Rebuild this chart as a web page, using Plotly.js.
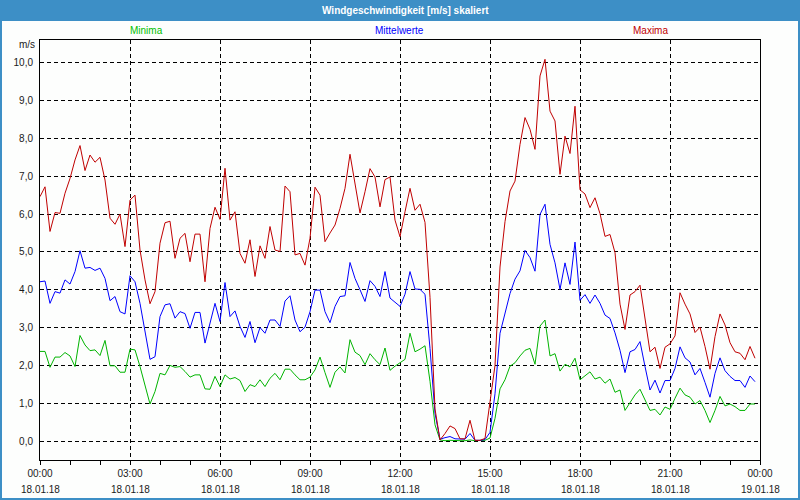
<!DOCTYPE html>
<html>
<head>
<meta charset="utf-8">
<script src="https://cdn.plot.ly/plotly-3.0.1.min.js"></script>
<style>
  html, body { margin: 0; padding: 0; background: #fdfefd; }
  #chart { width: 800px; height: 500px; }
</style>
</head>
<body>
<div id="chart"></div>
<script>
// ---- Data (10-minute values, 18.01.18 00:00 .. 23:50) ----
const minima = [
  2.37, 2.37, 1.95, 2.22, 2.22, 2.34, 2.25, 1.97, 2.79, 2.54,
  2.39, 2.41, 2.26, 2.66, 1.99, 1.99, 1.82, 1.82, 2.43, 2.41,
  1.97, 1.44, 0.98, 1.31, 1.79, 1.75, 2.00, 1.95, 1.97, 1.84,
  1.69, 1.75, 1.75, 1.38, 1.37, 1.71, 1.44, 1.75, 1.64, 1.68,
  1.60, 1.31, 1.49, 1.44, 1.62, 1.44, 1.66, 1.79, 1.62, 1.90,
  1.90, 1.75, 1.62, 1.62, 1.69, 1.88, 2.22, 1.81, 1.42, 1.82,
  1.96, 1.80, 2.68, 2.35, 2.26, 2.02, 2.31, 2.15, 2.02, 2.46,
  1.87, 1.98, 2.07, 2.16, 2.85, 2.36, 2.43, 2.52, 1.58, 0.43,
  0.03, 0.01, 0.02, 0.01, 0.01, 0.01, 0.03, 0.01, 0.01, 0.02,
  0.08, 0.60, 1.38, 1.62, 1.98, 2.07, 2.25, 2.40, 2.45, 2.03,
  3.04, 3.20, 2.25, 2.31, 1.85, 2.03, 1.96, 2.19, 1.62, 1.72,
  1.83, 1.64, 1.69, 1.53, 1.64, 1.29, 1.35, 0.81, 1.00, 1.22,
  1.37, 1.11, 0.81, 0.84, 0.69, 0.90, 0.84, 1.13, 1.40, 1.22,
  1.16, 0.98, 1.07, 0.81, 0.49, 0.81, 1.18, 0.93, 0.98, 0.91,
  0.81, 0.81, 0.98, 0.98
];
const mittelwerte = [
  4.21, 4.23, 3.64, 3.95, 3.91, 4.26, 4.15, 4.48, 5.03, 4.57,
  4.59, 4.51, 4.57, 4.30, 3.71, 3.82, 3.42, 3.36, 4.37, 4.21,
  3.64, 2.94, 2.16, 2.23, 3.29, 3.60, 3.63, 3.25, 3.42, 3.37,
  2.98, 3.40, 3.40, 2.59, 3.11, 3.64, 3.16, 4.19, 3.29, 3.44,
  3.03, 2.74, 3.16, 2.60, 3.00, 2.85, 3.20, 3.20, 3.03, 3.70,
  3.84, 3.20, 2.89, 3.01, 3.42, 3.99, 3.99, 3.42, 3.13, 3.56,
  3.82, 3.84, 4.72, 4.30, 4.00, 3.69, 4.24, 4.09, 3.82, 4.48,
  3.78, 3.66, 3.56, 3.88, 4.48, 4.02, 4.01, 3.88, 2.45, 0.73,
  0.05, 0.09, 0.12, 0.06, 0.05, 0.05, 0.20, 0.02, 0.02, 0.04,
  0.23, 1.25, 2.85, 3.35, 3.90, 4.28, 4.50, 5.04, 4.85, 4.49,
  5.99, 6.26, 5.20, 4.71, 4.01, 4.71, 4.14, 5.26, 3.72, 3.87,
  3.64, 3.86, 3.64, 3.33, 3.24, 2.86, 2.40, 1.81, 2.36, 2.42,
  2.63, 1.97, 1.35, 1.61, 1.27, 1.60, 1.60, 1.92, 2.49, 2.20,
  2.09, 1.75, 1.92, 1.55, 1.16, 1.79, 2.20, 1.86, 1.71, 1.60,
  1.60, 1.42, 1.72, 1.57
];
const maxima = [
  6.46, 6.72, 5.54, 6.04, 6.02, 6.55, 6.94, 7.43, 7.81, 7.15,
  7.56, 7.37, 7.50, 6.90, 5.89, 5.73, 6.00, 5.14, 6.37, 6.50,
  5.05, 4.26, 3.63, 3.95, 5.23, 5.77, 5.81, 4.83, 5.36, 5.49,
  4.74, 5.47, 5.47, 4.21, 5.62, 6.18, 5.86, 7.21, 5.84, 6.06,
  4.96, 4.70, 5.32, 4.35, 5.16, 4.83, 5.67, 5.05, 5.01, 6.74,
  6.59, 4.92, 4.96, 4.65, 5.36, 6.71, 6.50, 5.27, 5.50, 5.71,
  6.15, 6.68, 7.58, 6.81, 6.03, 6.59, 7.20, 6.98, 6.19, 6.91,
  6.98, 5.84, 5.40, 6.06, 6.68, 6.10, 6.26, 5.78, 3.80, 0.85,
  0.03, 0.20, 0.40, 0.33, 0.06, 0.06, 0.55, 0.02, 0.02, 0.07,
  1.00, 2.00, 4.60, 5.80, 6.61, 6.87, 7.84, 8.55, 8.24, 7.71,
  9.65, 10.09, 8.72, 8.46, 7.05, 8.06, 7.60, 8.85, 6.64, 6.53,
  6.17, 6.43, 6.01, 5.41, 5.46, 4.98, 3.62, 2.95, 3.86, 3.95,
  4.12, 3.29, 2.36, 2.48, 1.92, 2.48, 2.57, 2.78, 3.92, 3.62,
  3.36, 2.87, 3.01, 2.50, 1.90, 2.76, 3.36, 3.07, 2.60, 2.36,
  2.32, 2.15, 2.50, 2.19
];
const seriesNames = ['Minima', 'Mittelwerte', 'Maxima'];
const tickVals = ['2018-01-18 00:00', '2018-01-18 03:00', '2018-01-18 06:00', '2018-01-18 09:00',
  '2018-01-18 12:00', '2018-01-18 15:00', '2018-01-18 18:00', '2018-01-18 21:00', '2018-01-19 00:00'];
const tickTimes = ['00:00', '03:00', '06:00', '09:00', '12:00', '15:00', '18:00', '21:00', '00:00'];
const tickDates = ['18.01.18', '18.01.18', '18.01.18', '18.01.18', '18.01.18', '18.01.18', '18.01.18', '18.01.18', '19.01.18'];
const chartTitle = 'Windgeschwindigkeit [m/s] skaliert';
const yUnit = 'm/s';

// ---- time stamps: 10-minute sampling ----
function pad(n) { return (n < 10 ? '0' : '') + n; }
const times = minima.map(function (_, i) {
  const mins = i * 10;
  return '2018-01-18 ' + pad(Math.floor(mins / 60)) + ':' + pad(mins % 60);
});

const colors = { min: '#00b400', mean: '#0000ff', max: '#c00000' };
const blue = '#3d8fc6';
const font = 'Liberation Sans, Arial, sans-serif';

// paper-coordinate helpers (plot area: x 40..760, y 40..460 in pixels)
const L = 40, R = 40, T = 40, B = 40, W = 800, H = 500;
const pw = W - L - R, ph = H - T - B;
function px(x) { return (x - L) / pw; }
function py(y) { return (H - B - y) / ph; }

const traces = [
  { x: times, y: minima, name: seriesNames[0], type: 'scatter', mode: 'lines',
    line: { color: colors.min, width: 1 } },
  { x: times, y: mittelwerte, name: seriesNames[1], type: 'scatter', mode: 'lines',
    line: { color: colors.mean, width: 1 } },
  { x: times, y: maxima, name: seriesNames[2], type: 'scatter', mode: 'lines',
    line: { color: colors.max, width: 1 } }
];

const annotations = [
  { text: '<b>' + chartTitle + '</b>', xref: 'paper', yref: 'paper', x: px(405), y: py(10.5),
    xanchor: 'center', yanchor: 'middle', showarrow: false,
    font: { family: font, size: 10, color: '#ffffff' } },
  { text: seriesNames[0], xref: 'paper', yref: 'paper', x: px(146), y: py(30),
    xanchor: 'center', yanchor: 'middle', showarrow: false,
    font: { family: font, size: 10, color: '#00c000' } },
  { text: seriesNames[1], xref: 'paper', yref: 'paper', x: px(399), y: py(30),
    xanchor: 'center', yanchor: 'middle', showarrow: false,
    font: { family: font, size: 10, color: '#0000ff' } },
  { text: seriesNames[2], xref: 'paper', yref: 'paper', x: px(650), y: py(30),
    xanchor: 'center', yanchor: 'middle', showarrow: false,
    font: { family: font, size: 10, color: '#c00000' } },
  { text: yUnit, xref: 'paper', yref: 'paper', x: px(37), y: py(45),
    xanchor: 'right', yanchor: 'middle', showarrow: false,
    font: { family: font, size: 10, color: '#1a1a1a' } }
];
tickVals.forEach(function (v, i) {
  annotations.push({ text: tickDates[i], xref: 'x', yref: 'paper', x: v, y: py(489),
    xanchor: 'center', yanchor: 'middle', showarrow: false,
    font: { family: font, size: 10, color: '#1a1a1a' } });
});

const layout = {
  width: W, height: H,
  margin: { l: L, r: R, t: T, b: B, pad: 0 },
  paper_bgcolor: '#fdfefd', plot_bgcolor: '#fdfefd',
  showlegend: false,
  separators: ',.',
  font: { family: font, size: 10, color: '#1a1a1a' },
  xaxis: {
    type: 'date',
    range: ['2018-01-18 00:00', '2018-01-19 00:00'],
    tickmode: 'array', tickvals: tickVals, ticktext: tickTimes,
    ticks: 'outside', ticklen: 4, tickcolor: '#000', tickwidth: 1,
    minor: { dtick: 3600000, ticks: 'outside', ticklen: 4, tickcolor: '#000', showgrid: false },
    showgrid: true, gridcolor: '#000', gridwidth: 1, griddash: '4px,3px',
    showline: true, linecolor: '#000', linewidth: 1, mirror: true,
    zeroline: false, fixedrange: true,
    tickfont: { family: font, size: 10, color: '#1a1a1a' }
  },
  yaxis: {
    range: [-0.5, 10.6],
    tickmode: 'linear', tick0: 0, dtick: 1, tickformat: '.1f',
    ticks: 'outside', ticklen: 4, tickcolor: 'rgba(0,0,0,0)',
    showgrid: true, gridcolor: '#000', gridwidth: 1, griddash: '4px,3px',
    showline: true, linecolor: '#000', linewidth: 1, mirror: true,
    zeroline: false, fixedrange: true,
    tickfont: { family: font, size: 10, color: '#1a1a1a' }
  },
  shapes: [
    { type: 'rect', xref: 'paper', yref: 'paper', layer: 'below',
      x0: px(0), x1: px(800), y0: py(21), y1: py(0),
      fillcolor: blue, line: { width: 0 } },
    { type: 'rect', xref: 'paper', yref: 'paper', layer: 'above',
      x0: px(1), x1: px(799), y0: py(499), y1: py(1),
      fillcolor: 'rgba(0,0,0,0)', line: { color: blue, width: 2 } }
  ],
  annotations: annotations
};

Plotly.newPlot('chart', traces, layout, { displayModeBar: false, staticPlot: true });
</script>
</body>
</html>
